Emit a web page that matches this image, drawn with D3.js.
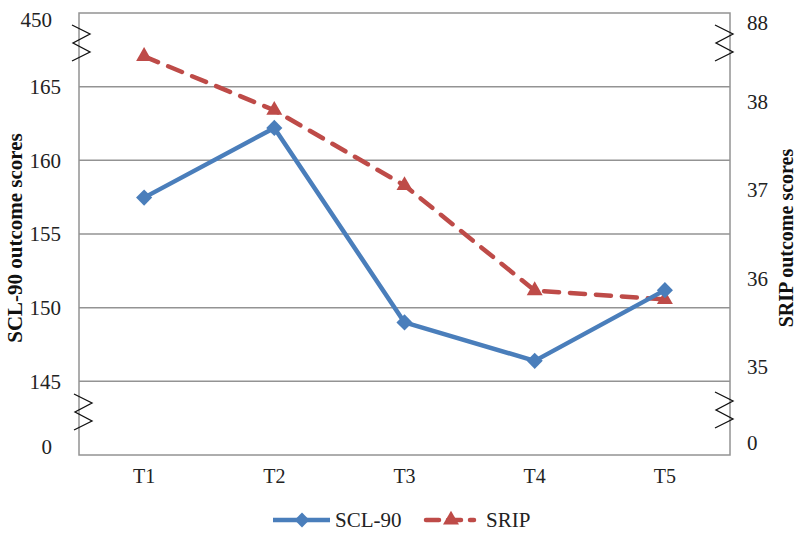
<!DOCTYPE html>
<html>
<head>
<meta charset="utf-8">
<script src="https://cdn.jsdelivr.net/npm/d3@7"></script>
<style>
  body { margin: 0; background: #fff; }
  text { font-family: "Liberation Serif", "Times New Roman", serif; }
</style>
</head>
<body>
<div class="center"></div>
<script>
var categories = ["T1", "T2", "T3", "T4", "T5"];
var sclValues = [157.47, 162.2, 149.0, 146.39, 151.19];
var sripValues = [38.51, 37.9, 37.05, 35.86, 35.76];
var leftTicks = [145, 150, 155, 160, 165];
var rightTicks = [35, 36, 37, 38];
var leftBreakLabels = ["450", "0"];
var rightBreakLabels = ["88", "0"];

var width = 800,
    height = 535;
var plot = {left: 79, right: 730, top: 13, bottom: 455};

var svg = d3.select(".center").append("svg")
    .attr("width", width)
    .attr("height", height);

var x = d3.scaleBand()
    .domain(categories)
    .range([plot.left, plot.right]);

var yLeft = d3.scaleLinear()
    .domain([140, 170])
    .range([plot.bottom, plot.top]);

var yRight = d3.scaleLinear()
    .domain([34, 39])
    .range([plot.bottom, plot.top]);

var blue = "#4a7ebb",
    red = "#be4b48",
    grid = "#939393";

// gridlines
svg.selectAll(".grid")
    .data(leftTicks)
    .enter().append("line")
    .attr("x1", plot.left)
    .attr("x2", plot.right)
    .attr("y1", function(d) { return yLeft(d); })
    .attr("y2", function(d) { return yLeft(d); })
    .attr("stroke", grid)
    .attr("stroke-width", 1.5);

// plot frame
svg.append("rect")
    .attr("x", plot.left)
    .attr("y", plot.top)
    .attr("width", plot.right - plot.left)
    .attr("height", plot.bottom - plot.top)
    .attr("fill", "none")
    .attr("stroke", grid)
    .attr("stroke-width", 1.5);

// left axis labels
svg.selectAll(".ltick")
    .data(leftTicks)
    .enter().append("text")
    .attr("x", 61)
    .attr("y", function(d) { return yLeft(d); })
    .attr("dy", "0.35em")
    .attr("text-anchor", "end")
    .attr("font-size", "21px")
    .attr("fill", "#222")
    .text(function(d) { return d; });

svg.selectAll(".lbreak")
    .data(leftBreakLabels)
    .enter().append("text")
    .attr("x", 52)
    .attr("y", function(d, i) { return i == 0 ? yLeft(170) + 7 : yLeft(140) - 8; })
    .attr("dy", "0.35em")
    .attr("text-anchor", "end")
    .attr("font-size", "21px")
    .attr("fill", "#222")
    .text(function(d) { return d; });

// right axis labels
svg.selectAll(".rtick")
    .data(rightTicks)
    .enter().append("text")
    .attr("x", 747)
    .attr("y", function(d) { return yRight(d); })
    .attr("dy", "0.35em")
    .attr("font-size", "21px")
    .attr("fill", "#222")
    .text(function(d) { return d; });

svg.selectAll(".rbreak")
    .data(rightBreakLabels)
    .enter().append("text")
    .attr("x", 747)
    .attr("y", function(d, i) { return i == 0 ? yRight(39) + 10 : yRight(34) - 12; })
    .attr("dy", "0.35em")
    .attr("font-size", "21px")
    .attr("fill", "#222")
    .text(function(d) { return d; });

// axis break zigzags
function zigzag(cx, cy) {
  var pts = [[cx - 9, cy - 18], [cx + 9, cy - 9], [cx - 8, cy], [cx + 9, cy + 9], [cx - 9, cy + 18]];
  svg.append("path")
      .attr("d", d3.line()(pts))
      .attr("fill", "none")
      .attr("stroke", "#111")
      .attr("stroke-width", 1.3);
}
zigzag(plot.left + 2, 43);
zigzag(plot.left + 4, 412);
zigzag(plot.right - 6, 43);
zigzag(plot.right - 6, 410);

// x labels
svg.selectAll(".xlab")
    .data(categories)
    .enter().append("text")
    .attr("x", function(d) { return x(d) + x.bandwidth() / 2; })
    .attr("y", 483)
    .attr("text-anchor", "middle")
    .attr("font-size", "20px")
    .attr("fill", "#222")
    .text(function(d) { return d; });

// axis titles
svg.append("text")
    .attr("transform", "translate(22,238) rotate(-90)")
    .attr("text-anchor", "middle")
    .attr("font-size", "21px")
    .attr("font-weight", "bold")
    .attr("fill", "#111")
    .text("SCL-90 outcome scores");

svg.append("text")
    .attr("transform", "translate(793,238) rotate(-90)")
    .attr("text-anchor", "middle")
    .attr("font-size", "20px")
    .attr("font-weight", "bold")
    .attr("fill", "#111")
    .text("SRIP outcome scores");

// series
var cx = function(d, i) { return x(categories[i]) + x.bandwidth() / 2; };

var sclLine = d3.line()
    .x(function(d, i) { return cx(d, i); })
    .y(function(d) { return yLeft(d); });

var sripLine = d3.line()
    .x(function(d, i) { return cx(d, i); })
    .y(function(d) { return yRight(d); });

svg.append("path")
    .attr("d", sripLine(sripValues))
    .attr("fill", "none")
    .attr("stroke", red)
    .attr("stroke-width", 4.5)
    .attr("stroke-dasharray", "15,11")
    .attr("stroke-linecap", "round");

svg.selectAll(".tri")
    .data(sripValues)
    .enter().append("path")
    .attr("d", d3.symbol().type(d3.symbolTriangle).size(110))
    .attr("transform", function(d, i) { return "translate(" + cx(d, i) + "," + yRight(d) + ")"; })
    .attr("fill", red);

svg.append("path")
    .attr("d", sclLine(sclValues))
    .attr("fill", "none")
    .attr("stroke", blue)
    .attr("stroke-width", 4.5)
    .attr("stroke-linejoin", "round");

svg.selectAll(".dia")
    .data(sclValues)
    .enter().append("path")
    .attr("d", d3.symbol().type(d3.symbolSquare).size(130))
    .attr("transform", function(d, i) { return "translate(" + cx(d, i) + "," + yLeft(d) + ") rotate(45)"; })
    .attr("fill", blue);

// legend
var leg = svg.append("g").attr("transform", "translate(0,520)");
leg.append("line")
    .attr("x1", 273).attr("x2", 330).attr("y1", 0).attr("y2", 0)
    .attr("stroke", blue).attr("stroke-width", 4.5);
leg.append("path")
    .attr("d", d3.symbol().type(d3.symbolSquare).size(110))
    .attr("transform", "translate(302,0) rotate(45)")
    .attr("fill", blue);
leg.append("text")
    .attr("x", 335).attr("y", 0).attr("dy", "0.35em")
    .attr("font-size", "21px").attr("fill", "#222")
    .text("SCL-90");
leg.append("line")
    .attr("x1", 426).attr("x2", 474).attr("y1", 0).attr("y2", 0)
    .attr("stroke", red).attr("stroke-width", 4.5)
    .attr("stroke-dasharray", "13,9").attr("stroke-linecap", "round");
leg.append("path")
    .attr("d", d3.symbol().type(d3.symbolTriangle).size(110))
    .attr("transform", "translate(451,0)")
    .attr("fill", red);
leg.append("text")
    .attr("x", 486).attr("y", 0).attr("dy", "0.35em")
    .attr("font-size", "21px").attr("fill", "#222")
    .text("SRIP");
</script>
</body>
</html>
